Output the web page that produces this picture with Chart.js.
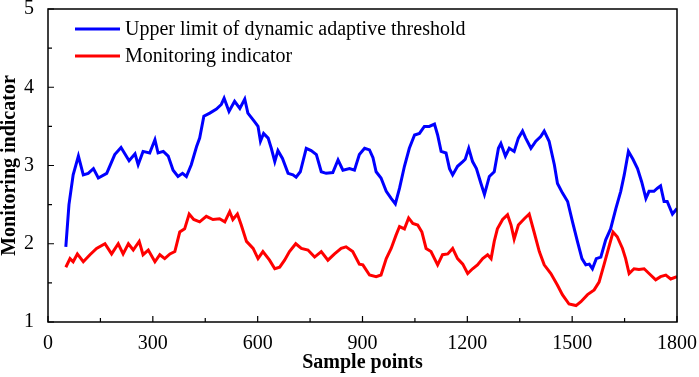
<!DOCTYPE html>
<html>
<head>
<meta charset="utf-8">
<script src="https://cdn.jsdelivr.net/npm/chart.js@4"></script>
<style>
  html, body { margin: 0; padding: 0; background: #fff; }
  #wrap { width: 699px; height: 377px; }
</style>
</head>
<body>
<div id="wrap"><canvas id="grafico"></canvas></div>
<script>
// Dados
const blueX = [51, 60, 72, 87, 101, 115, 130, 144, 168, 191, 209, 232, 249, 258, 272, 291, 306, 315, 330, 344, 358, 372, 385, 396, 410, 425, 434, 446, 463, 482, 496, 504, 518, 534, 549, 563, 572, 591, 601, 608, 617, 630, 639, 649, 658, 671, 687, 701, 710, 722, 739, 753, 768, 782, 796, 815, 830, 844, 863, 877, 891, 906, 920, 930, 939, 953, 968, 982, 994, 1006, 1020, 1034, 1049, 1063, 1077, 1091, 1106, 1115, 1125, 1139, 1149, 1158, 1172, 1187, 1194, 1204, 1215, 1226, 1239, 1249, 1263, 1277, 1289, 1296, 1309, 1320, 1334, 1346, 1358, 1367, 1382, 1396, 1410, 1420, 1434, 1449, 1458, 1472, 1487, 1501, 1515, 1528, 1539, 1549, 1558, 1569, 1582, 1596, 1610, 1625, 1639, 1649, 1661, 1674, 1687, 1699, 1711, 1720, 1734, 1744, 1753, 1763, 1772, 1787, 1800];
const blueY = [1.96, 2.5, 2.88, 3.12, 2.88, 2.9, 2.96, 2.84, 2.9, 3.14, 3.23, 3.06, 3.15, 3.01, 3.18, 3.16, 3.33, 3.16, 3.18, 3.12, 2.94, 2.86, 2.9, 2.86, 3.01, 3.24, 3.35, 3.63, 3.67, 3.72, 3.78, 3.86, 3.69, 3.82, 3.73, 3.85, 3.67, 3.56, 3.5, 3.31, 3.41, 3.35, 3.22, 3.05, 3.19, 3.09, 2.9, 2.88, 2.85, 2.92, 3.22, 3.19, 3.14, 2.92, 2.9, 2.91, 3.07, 2.94, 2.96, 2.94, 3.14, 3.22, 3.2, 3.1, 2.92, 2.84, 2.67, 2.58, 2.51, 2.71, 2.99, 3.22, 3.39, 3.41, 3.5, 3.5, 3.53, 3.39, 3.18, 3.16, 2.96, 2.88, 2.99, 3.05, 3.08, 3.22, 3.05, 2.96, 2.77, 2.63, 2.86, 2.92, 3.22, 3.28, 3.12, 3.22, 3.18, 3.35, 3.44, 3.35, 3.22, 3.31, 3.37, 3.44, 3.31, 3.01, 2.77, 2.65, 2.54, 2.28, 2.03, 1.81, 1.73, 1.74, 1.68, 1.81, 1.83, 2.05, 2.19, 2.45, 2.67, 2.88, 3.18, 3.08, 2.96, 2.79, 2.58, 2.67, 2.67, 2.71, 2.74, 2.54, 2.54, 2.38, 2.45];

const redX = [51, 63, 72, 84, 101, 120, 139, 163, 182, 201, 215, 230, 244, 261, 272, 287, 306, 320, 334, 349, 363, 377, 391, 404, 417, 434, 453, 472, 491, 506, 520, 529, 542, 553, 568, 587, 601, 615, 634, 649, 663, 677, 691, 709, 725, 744, 763, 782, 801, 820, 839, 853, 872, 891, 901, 920, 939, 953, 968, 982, 996, 1006, 1020, 1032, 1044, 1058, 1070, 1082, 1096, 1115, 1129, 1144, 1158, 1172, 1187, 1201, 1215, 1229, 1244, 1258, 1268, 1277, 1286, 1301, 1315, 1325, 1334, 1346, 1363, 1377, 1391, 1406, 1420, 1439, 1458, 1472, 1491, 1511, 1525, 1544, 1563, 1577, 1591, 1604, 1617, 1629, 1644, 1653, 1663, 1677, 1691, 1706, 1720, 1739, 1753, 1768, 1782, 1800];
const redY = [1.7, 1.81, 1.77, 1.87, 1.77, 1.86, 1.94, 2.0, 1.87, 2.0, 1.87, 2.0, 1.92, 2.03, 1.86, 1.92, 1.77, 1.86, 1.81, 1.87, 1.9, 2.15, 2.19, 2.38, 2.31, 2.28, 2.35, 2.31, 2.32, 2.28, 2.41, 2.31, 2.38, 2.24, 2.03, 1.94, 1.81, 1.9, 1.79, 1.68, 1.7, 1.79, 1.9, 2.0, 1.94, 1.92, 1.83, 1.9, 1.79, 1.87, 1.94, 1.96, 1.9, 1.74, 1.73, 1.6, 1.58, 1.6, 1.81, 1.94, 2.11, 2.22, 2.19, 2.33, 2.26, 2.24, 2.15, 1.94, 1.9, 1.73, 1.86, 1.87, 1.94, 1.81, 1.74, 1.62, 1.68, 1.73, 1.81, 1.86, 1.81, 2.03, 2.19, 2.31, 2.37, 2.24, 2.06, 2.24, 2.32, 2.38, 2.15, 1.9, 1.73, 1.62, 1.47, 1.35, 1.23, 1.21, 1.26, 1.35, 1.41, 1.51, 1.73, 1.94, 2.15, 2.09, 1.94, 1.81, 1.62, 1.68, 1.67, 1.68, 1.62, 1.54, 1.58, 1.6, 1.55, 1.58];

const labelAzul = 'Upper limit of dynamic adaptive threshold';
const labelVermelho = 'Monitoring indicator';
const xMajor = 300, xMinor = 150;
const yMajor = 1, yMinor = 0.5;

const serif = "'Liberation Serif', 'Times New Roman', serif";

// Moldura, ticks para dentro e legenda dentro da área do gráfico
const molduraPlugin = {
    id: 'moldura',
    afterDraw(chart) {
        const { ctx, chartArea: a, scales } = chart;
        const xs = scales.x, ys = scales.y;
        ctx.save();
        ctx.strokeStyle = '#000';
        ctx.lineWidth = 1.5;
        ctx.strokeRect(a.left, a.top, a.right - a.left, a.bottom - a.top);

        ctx.lineWidth = 1.2;
        ctx.beginPath();
        for (let v = xs.min; v <= xs.max; v += xMinor) {
            const px = xs.getPixelForValue(v);
            const len = (v % xMajor === 0) ? 6 : 4;
            ctx.moveTo(px, a.bottom);
            ctx.lineTo(px, a.bottom - len);
        }
        for (let v = ys.min; v <= ys.max + 1e-9; v += yMinor) {
            const py = ys.getPixelForValue(v);
            const len = (Math.abs(v - Math.round(v)) < 1e-9) ? 6 : 4;
            ctx.moveTo(a.left, py);
            ctx.lineTo(a.left + len, py);
        }
        ctx.stroke();

        // legenda
        ctx.font = '20px ' + serif;
        ctx.textBaseline = 'middle';
        ctx.fillStyle = '#000';
        chart.data.datasets.forEach((ds, i) => {
            const y = a.top + 20 + i * 27;
            ctx.strokeStyle = ds.borderColor;
            ctx.lineWidth = 3;
            ctx.beginPath();
            ctx.moveTo(a.left + 27, y);
            ctx.lineTo(a.left + 72, y);
            ctx.stroke();
            ctx.fillText(ds.label, a.left + 77, y + 1);
        });
        ctx.restore();
    }
};

new Chart(document.getElementById('grafico').getContext('2d'), {
    type: 'line',
    data: {
        datasets: [
            {
                label: labelAzul,
                data: blueX.map((x, i) => ({ x: x, y: blueY[i] })),
                borderColor: '#0000ff',
                borderWidth: 3,
                pointRadius: 0,
                tension: 0,
                fill: false,
            },
            {
                label: labelVermelho,
                data: redX.map((x, i) => ({ x: x, y: redY[i] })),
                borderColor: '#ff0000',
                borderWidth: 3,
                pointRadius: 0,
                tension: 0,
                fill: false,
            }
        ]
    },
    options: {
        responsive: true,
        maintainAspectRatio: false,
        animation: false,
        layout: {
            padding: { top: 0, right: 12, left: 0, bottom: 0 }
        },
        plugins: {
            legend: { display: false },
            tooltip: { enabled: false },
        },
        scales: {
            x: {
                type: 'linear',
                min: 0,
                max: 1800,
                grid: { display: false },
                border: { display: false },
                ticks: {
                    stepSize: xMajor,
                    color: '#000',
                    padding: 2,
                    maxRotation: 0,
                    font: { family: serif, size: 20 },
                    callback: (v) => String(v),
                },
                title: {
                    display: true,
                    text: 'Sample points',
                    color: '#000',
                    padding: { top: 0, bottom: 4 },
                    font: { family: serif, size: 20, weight: 'bold', lineHeight: 1 },
                },
                afterFit(scale) { scale.height = 55; },
            },
            y: {
                min: 1,
                max: 5,
                grid: { display: false },
                border: { display: false },
                ticks: {
                    stepSize: yMajor,
                    color: '#000',
                    padding: 6,
                    font: { family: serif, size: 20, lineHeight: 0.3 },
                    callback: (v) => String(v),
                },
                title: {
                    display: true,
                    text: 'Monitoring indicator',
                    color: '#000',
                    padding: { top: 0, bottom: 0 },
                    font: { family: serif, size: 20, weight: 'bold', lineHeight: 1 },
                },
                afterFit(scale) { scale.width = 48; },
            }
        }
    },
    plugins: [molduraPlugin]
});
</script>
</body>
</html>
